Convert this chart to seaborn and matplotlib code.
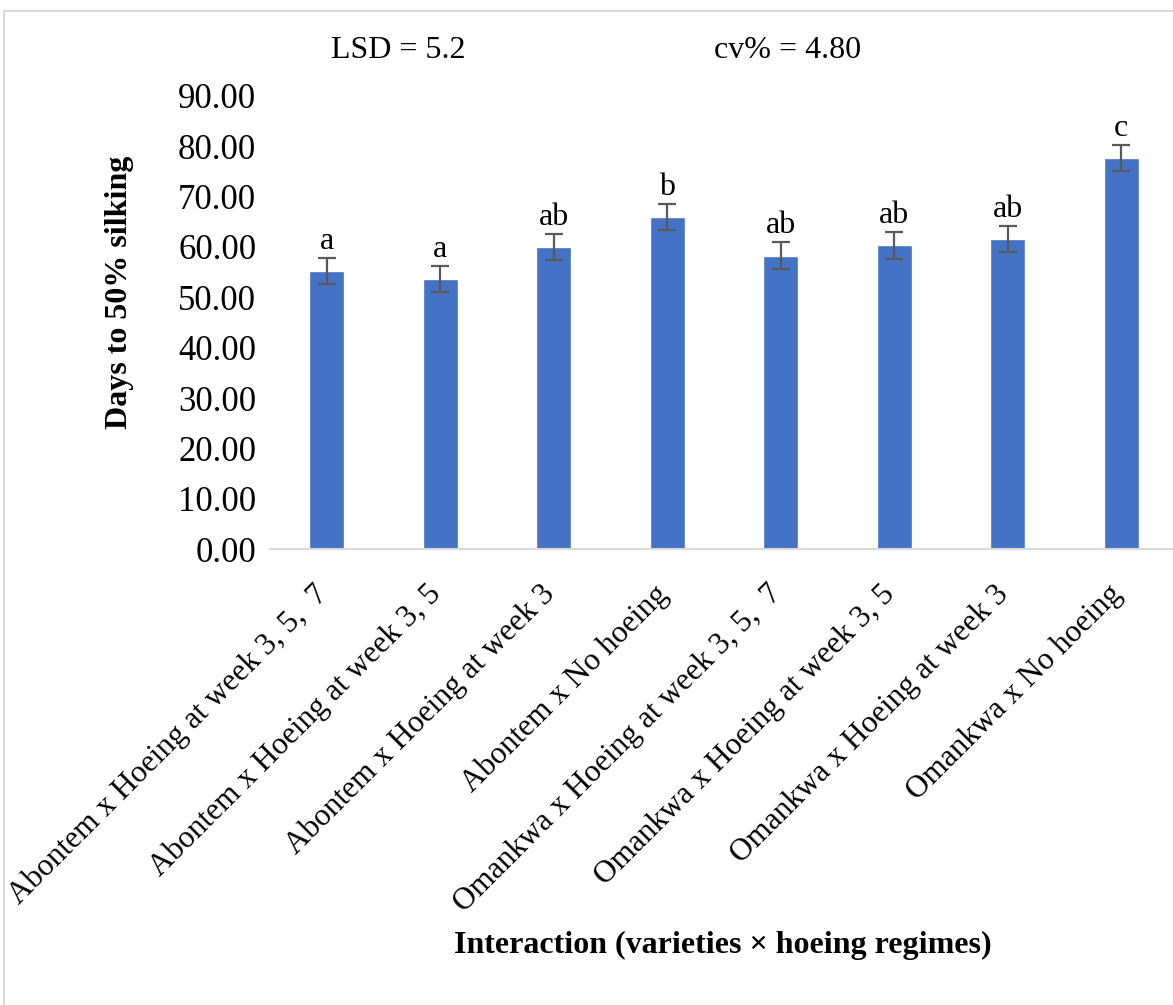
import matplotlib
matplotlib.use("Agg")
import matplotlib.pyplot as plt
from matplotlib.patches import Rectangle
from matplotlib.transforms import ScaledTranslation
import seaborn as sns
import pandas as pd

treatments = [
    "Abontem x Hoeing at week 3, 5,  7",
    "Abontem x Hoeing at week 3, 5",
    "Abontem x Hoeing at week 3",
    "Abontem x No hoeing",
    "Omankwa x Hoeing at week 3, 5,  7",
    "Omankwa x Hoeing at week 3, 5",
    "Omankwa x Hoeing at week 3",
    "Omankwa x No hoeing",
]
days_to_silking = [55.2, 53.6, 60.0, 65.9, 58.3, 60.3, 61.6, 77.6]
std_error = [2.6, 2.6, 2.6, 2.6, 2.6, 2.6, 2.6, 2.6]
letters = ["a", "a", "ab", "b", "ab", "ab", "ab", "c"]
y_ticks = [0, 10, 20, 30, 40, 50, 60, 70, 80, 90]

df = pd.DataFrame({"treatment": treatments, "days": days_to_silking})

sns.set_theme(style="white")
plt.rcParams["font.family"] = ["Liberation Serif", "DejaVu Serif"]
plt.rcParams["text.color"] = "black"
plt.rcParams["xtick.color"] = "black"
plt.rcParams["ytick.color"] = "black"
plt.rcParams["axes.labelcolor"] = "black"

fig = plt.figure(figsize=(11.73, 10.05), dpi=100)
ax = fig.add_axes([0.2302, 0.4537, 0.7741, 0.4508])

sns.barplot(data=df, x="treatment", y="days", color="#4472C4",
            saturation=1, width=0.31, errorbar=None, ax=ax, zorder=2)
ax.errorbar(range(len(treatments)), days_to_silking, yerr=std_error,
            fmt="none", ecolor="#595959", elinewidth=1.6, capsize=6.5,
            capthick=1.6, zorder=3)

for i, (v, e, s) in enumerate(zip(days_to_silking, std_error, letters)):
    ax.text(i, v + e + 0.4, s, ha="center", va="bottom", fontsize=23,
            color="black")

ax.set_ylim(0, 90)
ax.set_yticks(y_ticks)
ax.set_yticklabels([f"{t:.2f}" for t in y_ticks], fontsize=25)
ax.set_xlim(-0.5, len(treatments) - 0.5)
ax.set_xticks(range(len(treatments)))
ax.set_xticklabels(treatments, rotation=45, ha="right",
                   rotation_mode="anchor", fontsize=22.5)
ax.tick_params(axis="y", length=0, pad=10)
ax.tick_params(axis="x", length=0, pad=20)
shift = ScaledTranslation(-10 / 72, -2 / 72, fig.dpi_scale_trans)
for lab in ax.get_xticklabels():
    lab.set_transform(lab.get_transform() + shift)

for side in ["top", "right", "left"]:
    ax.spines[side].set_visible(False)
ax.spines["bottom"].set_color("#d9d9d9")
ax.spines["bottom"].set_linewidth(1.5)

ax.set_xlabel("")
ax.set_ylabel("")
fig.text(120 / 1173, 1 - 292 / 1005, "Days to 50% silking", rotation=90,
         ha="center", va="center", fontsize=23, fontweight="bold")
fig.text(723 / 1173, 1 - 945 / 1005, "Interaction (varieties \u00d7 hoeing regimes)",
         ha="center", va="center", fontsize=23, fontweight="bold")

fig.text(398 / 1173, 1 - 50 / 1005, "LSD = 5.2", ha="center", va="center",
         fontsize=23)
fig.text(788 / 1173, 1 - 50 / 1005, "cv% = 4.80", ha="center", va="center",
         fontsize=23)

fig.patches.append(Rectangle((4 / 1173, -0.1), 1.2, 1.1 - 11 / 1005,
                             transform=fig.transFigure, fill=False,
                             edgecolor="#d9d9d9", linewidth=1.5))

fig.savefig("out.png", dpi=100)
